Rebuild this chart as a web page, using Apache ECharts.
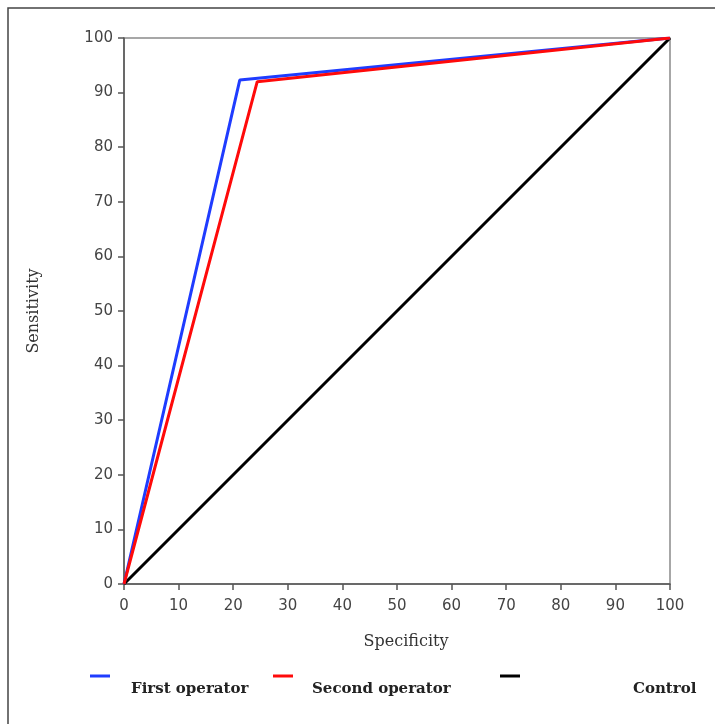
<!DOCTYPE html>
<html>
<head>
<meta charset="utf-8">
<script src="https://cdn.jsdelivr.net/npm/echarts@6/dist/echarts.min.js"></script>
<style>
  html, body { margin: 0; padding: 0; background: #fff; }
  #chart { width: 715px; height: 724px; }
</style>
</head>
<body>
<div id="chart"></div>
<script>
// ROC curves: specificity (x) vs sensitivity (y)
var seriesNames = ['First operator', 'Second operator', 'Control'];
var firstOperator = [[0, 0], [21.2, 92.3], [100, 100]];
var secondOperator = [[0, 0], [24.4, 92.0], [100, 100]];
var control = [[0, 0], [100, 100]];
var lineColors = ['#1f3cff', '#ff0a0a', '#000000'];

var serif = '"DejaVu Serif", "Liberation Serif", serif';
var tickFont = '"DejaVu Sans", sans-serif';

// legend: short line above-left of a bold label
var legendPos = [
    { lx: 90, tx: 131 },
    { lx: 273, tx: 312 },
    { lx: 500, tx: 633 }
];
var legendGraphics = [];
seriesNames.forEach(function (name, i) {
    legendGraphics.push({
        type: 'line',
        shape: { x1: legendPos[i].lx, y1: 676, x2: legendPos[i].lx + 20, y2: 676 },
        style: { stroke: lineColors[i], lineWidth: 3 }
    });
    legendGraphics.push({
        type: 'text',
        x: legendPos[i].tx,
        y: 689,
        style: {
            text: name,
            font: 'bold 15px ' + serif,
            fill: '#222',
            textVerticalAlign: 'middle'
        }
    });
});

var option = {
    animation: false,
    backgroundColor: '#fff',
    grid: {
        left: 124, right: 45, top: 38, bottom: 140,
        show: true,
        borderColor: '#8a8a8a',
        borderWidth: 1.5
    },
    xAxis: {
        type: 'value',
        min: 0, max: 100, interval: 10,
        name: 'Specificity',
        nameLocation: 'middle',
        nameGap: 50,
        nameTextStyle: { fontFamily: serif, fontSize: 16, color: '#333', padding: [0, 0, 0, 18] },
        axisLine: { lineStyle: { color: '#555', width: 1.5 } },
        axisTick: { length: 6, lineStyle: { color: '#555', width: 1.5 } },
        axisLabel: { fontFamily: tickFont, fontSize: 15, color: '#444', margin: 15 },
        splitLine: { show: false }
    },
    yAxis: {
        type: 'value',
        min: 0, max: 100, interval: 10,
        name: 'Sensitivity',
        nameLocation: 'middle',
        nameGap: 82,
        nameTextStyle: { fontFamily: serif, fontSize: 16, color: '#333' },
        axisLine: { show: true, lineStyle: { color: '#555', width: 1.5 } },
        axisTick: { show: true, length: 6, lineStyle: { color: '#555', width: 1.5 } },
        axisLabel: { fontFamily: tickFont, fontSize: 15, color: '#444', margin: 11 },
        splitLine: { show: false }
    },
    series: [
        { name: seriesNames[0], type: 'line', data: firstOperator, symbol: 'none',
          lineStyle: { color: lineColors[0], width: 3 }, z: 3 },
        { name: seriesNames[1], type: 'line', data: secondOperator, symbol: 'none',
          lineStyle: { color: lineColors[1], width: 3 }, z: 4 },
        { name: seriesNames[2], type: 'line', data: control, symbol: 'none',
          lineStyle: { color: lineColors[2], width: 3 }, z: 2 }
    ],
    graphic: [
        {
            type: 'rect',
            shape: { x: 8, y: 8, width: 720, height: 730 },
            style: { fill: 'none', stroke: '#444', lineWidth: 1.5 },
            silent: true
        }
    ].concat(legendGraphics)
};

var chart = echarts.init(document.getElementById('chart'));
chart.setOption(option);
</script>
</body>
</html>
